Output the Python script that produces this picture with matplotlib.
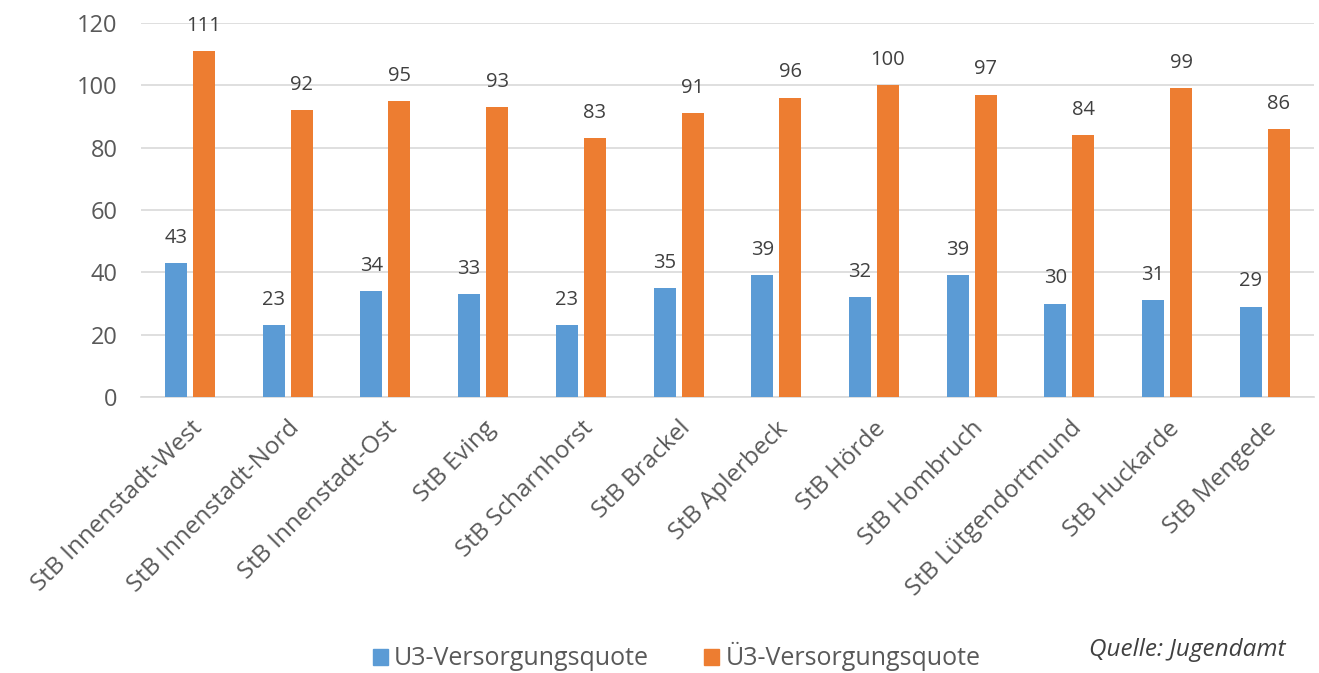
import matplotlib
matplotlib.use("Agg")
import matplotlib.pyplot as plt
import numpy as np
from matplotlib.patches import Patch

categories = ["StB Innenstadt-West", "StB Innenstadt-Nord", "StB Innenstadt-Ost", "StB Eving",
              "StB Scharnhorst", "StB Brackel", "StB Aplerbeck", "StB Hörde", "StB Hombruch",
              "StB Lütgendortmund", "StB Huckarde", "StB Mengede"]
u3_values = [43, 23, 34, 33, 23, 35, 39, 32, 39, 30, 31, 29]
ue3_values = [111, 92, 95, 93, 83, 91, 96, 100, 97, 84, 99, 86]
series_names = ["U3-Versorgungsquote", "Ü3-Versorgungsquote"]
y_ticks = [0, 20, 40, 60, 80, 100, 120]
source_text = "Quelle: Jugendamt"

plt.rcParams['font.family'] = ['Open Sans', 'DejaVu Sans']

blue = "#5B9BD5"
orange = "#ED7D31"
text_col = "#404040"
tick_col = "#595959"

fig = plt.figure(figsize=(13.19, 6.73), dpi=100)
ax = fig.add_axes([0.107, 0.410, 0.889, 0.556])

x = np.arange(len(categories))
w = 0.225
off = 0.143
b1 = ax.bar(x - off, u3_values, w, color=blue, zorder=3)
b2 = ax.bar(x + off, ue3_values, w, color=orange, zorder=3)

for rect, v in zip(b1, u3_values):
    ax.annotate(str(v), (rect.get_x() + rect.get_width() / 2, v), xytext=(0, 11),
                textcoords="offset points", ha="center", va="bottom", fontsize=14.5, color=text_col)
for rect, v in zip(b2, ue3_values):
    ax.annotate(str(v), (rect.get_x() + rect.get_width() / 2, v), xytext=(0, 11),
                textcoords="offset points", ha="center", va="bottom", fontsize=14.5, color=text_col)

ax.set_xlim(-0.5, len(categories) - 0.5)
ax.set_ylim(0, 120)
ax.set_yticks(y_ticks)
ax.set_yticklabels([str(t) for t in y_ticks], fontsize=17, color=tick_col)
ax.yaxis.grid(True, color="#d9d9d9", linewidth=1.2, zorder=0)
ax.set_axisbelow(True)
for s in ["top", "right", "left"]:
    ax.spines[s].set_visible(False)
ax.spines["bottom"].set_color("#d9d9d9")
ax.spines["bottom"].set_linewidth(1.2)
ax.tick_params(axis="y", length=0, pad=17)
ax.tick_params(axis="x", length=0, pad=14)

ax.set_xticks(x)
ax.set_xticklabels(categories, rotation=45, ha="right", rotation_mode="anchor",
                   fontsize=17.5, color=tick_col)

handles = [Patch(color=blue), Patch(color=orange)]
fig.legend(handles, series_names, loc="center", bbox_to_anchor=(0.513, 0.024), ncol=2,
           frameon=False, fontsize=18, handlelength=0.6, handleheight=0.6, handletextpad=0.25,
           columnspacing=2.2, labelcolor=tick_col)
fig.text(0.826, 0.034, source_text, fontsize=17.5, style="italic", color=text_col, ha="left", va="center")

fig.savefig("out.png", dpi=100)
